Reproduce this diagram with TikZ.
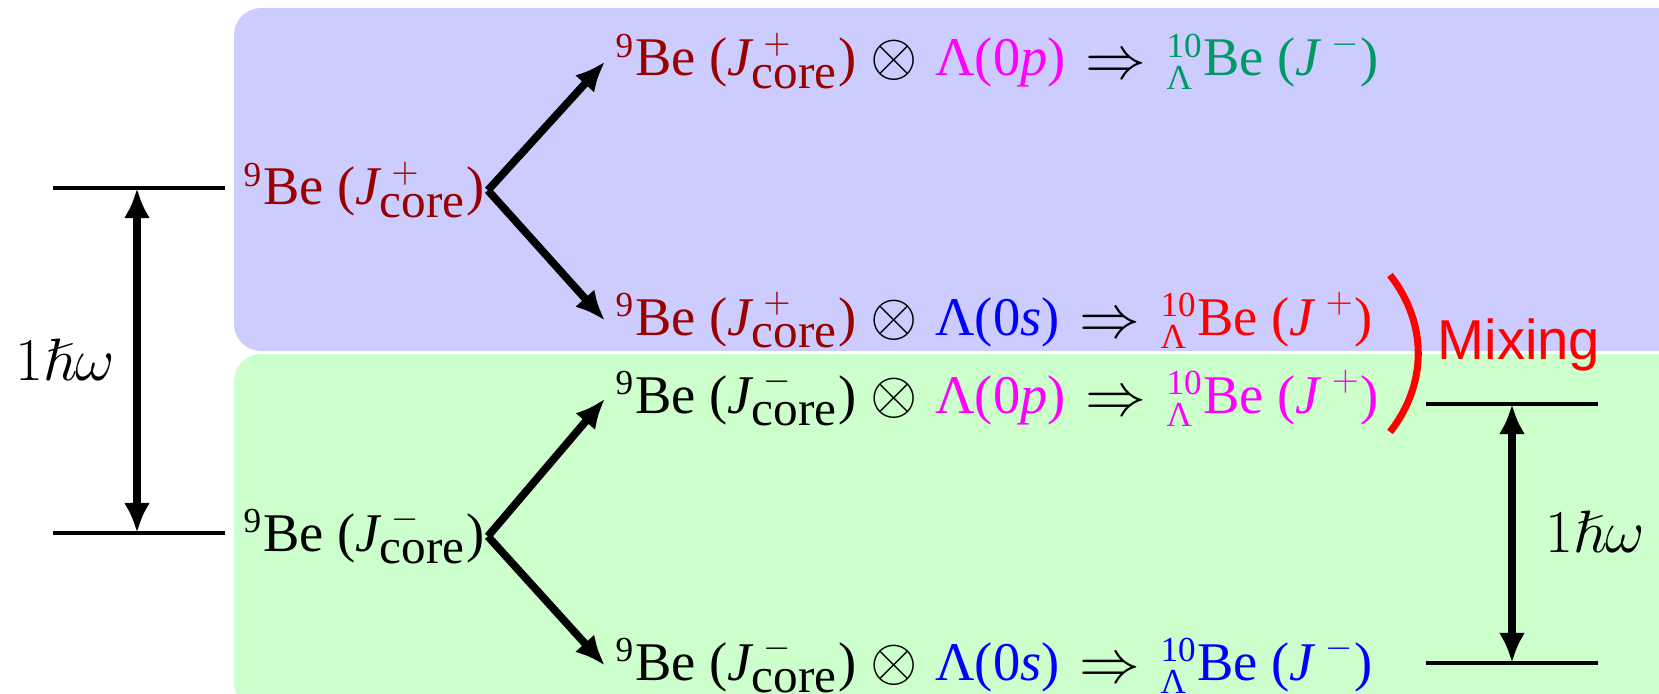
\documentclass[tikz,border=0pt]{standalone}
\usepackage{amsmath,amssymb}
\usepackage{fontspec}
\setmainfont{Liberation Serif}
\newfontfamily\mixfont{Liberation Sans}
\usetikzlibrary{arrows.meta}
\DeclareMathSizes{15.5}{15.5}{10}{7.5}

\definecolor{corered}{RGB}{153,0,0}
\definecolor{hypgreen}{RGB}{0,153,102}
\definecolor{lammag}{RGB}{255,0,255}
\definecolor{lamblue}{RGB}{0,0,255}
\definecolor{mixred}{RGB}{255,0,0}
\definecolor{boxblue}{RGB}{204,204,255}
\definecolor{boxgreen}{RGB}{204,255,204}

\newcommand{\nineBe}{${}^{\text{9}}$Be}
\newcommand{\Jcore}[1]{$\textit{J}^{\,\,#1}_{\mbox{\fontsize{14pt}{14pt}\selectfont core}}$}
\newcommand{\hypBe}{${}^{\text{10}}_{\text{Λ}}$Be}
\newcommand{\lamorb}[1]{Λ(0\textit{#1})}
\newcommand{\tensor}{\hspace{0.14cm}{\fontsize{16.5pt}{16.5pt}\selectfont$\otimes$}\hspace{0.18cm}}
\newcommand{\yields}{\hspace{0.2cm}\raisebox{-0.8pt}{\fontsize{19pt}{19pt}\selectfont$\Rightarrow$}\hspace{0.2cm}}

\begin{document}
\begin{tikzpicture}[x=0.01cm, y=-0.01cm,
    state/.style={inner sep=0.1cm, font=\fontsize{15.5pt}{18pt}\selectfont},
    core/.style={state, inner xsep=0.03cm},
    gaplabel/.style={inner sep=0pt, font=\fontsize{17pt}{20pt}\selectfont},
    level/.style={line width=1.1pt},
    branch/.style={line width=2.2pt, -{Latex[length=0.3cm, width=0.26cm]}},
    gap/.style={line width=2.4pt, {Latex[length=0.3cm, width=0.26cm]}-{Latex[length=0.3cm, width=0.26cm]}}]
    \useasboundingbox (0,0) rectangle (1659,694);
    %bands
    \fill[boxblue, rounded corners=0.27cm] (234,8) rectangle (1690,351);
    \fill[boxgreen, rounded corners=0.27cm] (234,354) rectangle (1690,710);

    %core states
    \node[core, anchor=base west, text=corered] (cp) at (240,205) {\nineBe{} (\Jcore{+})};
    \node[core, anchor=base west] (cm) at (240,551) {\nineBe{} (\Jcore{-})};

    %coupled states
    \node[state, anchor=base west] (pp) at (605,76) {\textcolor{corered}{\nineBe{} (\Jcore{+})}\tensor\textcolor{lammag}{\lamorb{p}}\yields\textcolor{hypgreen}{\hypBe{} ($\textit{J}^{\,\,-}$)}};
    \node[state, anchor=base west] (ps) at (605,335) {\textcolor{corered}{\nineBe{} (\Jcore{+})}\tensor\textcolor{lamblue}{\lamorb{s}}\yields\textcolor{mixred}{\hypBe{} ($\textit{J}^{\,\,+}$)}};
    \node[state, anchor=base west] (mp) at (605,413) {\nineBe{} (\Jcore{-})\tensor\textcolor{lammag}{\lamorb{p}}\yields\textcolor{lammag}{\hypBe{} ($\textit{J}^{\,\,+}$)}};
    \node[state, anchor=base west] (ms) at (605,680) {\nineBe{} (\Jcore{-})\tensor\textcolor{lamblue}{\lamorb{s}}\yields\textcolor{lamblue}{\hypBe{} ($\textit{J}^{\,\,-}$)}};

    \draw[branch] (cp.east) -- (pp.west);
    \draw[branch] (cp.east) -- (ps.west);
    \draw[branch] (cm.east) -- (mp.west);
    \draw[branch] (cm.east) -- (ms.west);

    %left gap
    \coordinate (lu1) at (53,188);
    \coordinate (lu2) at (225,188);
    \coordinate (ld1) at (53,533);
    \coordinate (ld2) at (225,533);
    \coordinate (lu) at (137,188);
    \coordinate (ld) at (137,533);
    \draw[level] (lu1) -- (lu2);
    \draw[level] (ld1) -- (ld2);
    \draw[gap] (lu) -- (ld);
    \node[gaplabel] (lgap) at (65,360) {$1\hslash\omega$};

    %right gap
    \coordinate (ru1) at (1426,404);
    \coordinate (ru2) at (1598,404);
    \coordinate (rd1) at (1426,663);
    \coordinate (rd2) at (1598,663);
    \coordinate (ru) at (1512,404);
    \coordinate (rd) at (1512,663);
    \draw[level] (ru1) -- (ru2);
    \draw[level] (rd1) -- (rd2);
    \draw[gap] (ru) -- (rd);
    \node[gaplabel] (rgap) at (1595,532) {$1\hslash\omega$};

    %mixing
    \coordinate (mt) at (1390,275);
    \coordinate (mb) at (1390,432);
    \draw[mixred, line width=2pt] (mt) to[bend left=38] (mb);
    \node[inner sep=0pt, anchor=base west, text=mixred, font=\mixfont\fontsize{16pt}{19pt}\selectfont] (mix) at (1437,360) {Mixing};
\end{tikzpicture}
\end{document}
